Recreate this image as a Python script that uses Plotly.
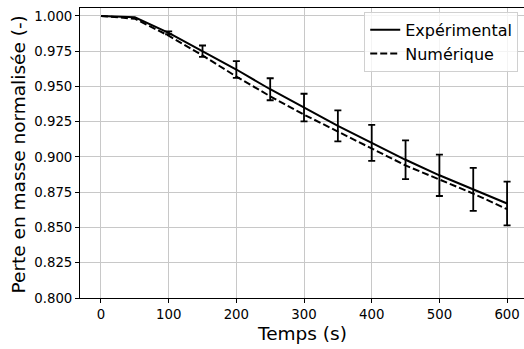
import plotly.graph_objects as go

temps = [0, 50, 100, 150, 200, 250, 300, 350, 400, 450, 500, 550, 600]
experimental = [1.000, 0.999, 0.988, 0.975, 0.962, 0.948, 0.935, 0.922, 0.910, 0.898, 0.887, 0.877, 0.867]
erreur = [0.0, 0.0005, 0.001, 0.004, 0.006, 0.0078, 0.0098, 0.011, 0.0128, 0.0137, 0.0147, 0.0153, 0.0155]
numerique = [1.000, 0.998, 0.986, 0.972, 0.957, 0.943, 0.930, 0.918, 0.906, 0.894, 0.884, 0.874, 0.863]

y_ticks = [0.800, 0.825, 0.850, 0.875, 0.900, 0.925, 0.950, 0.975, 1.000]
x_ticks = [0, 100, 200, 300, 400, 500, 600]

FONT = "DejaVu Sans"

fig = go.Figure()
fig.add_trace(go.Scatter(
    x=temps[2:], y=experimental[2:], mode="markers",
    marker=dict(size=0.1, color="black", opacity=0),
    error_y=dict(type="data", array=erreur[2:], visible=True, color="black", thickness=1.8, width=3.5),
    showlegend=False, hoverinfo="skip"))
fig.add_trace(go.Scatter(
    x=temps, y=experimental, mode="lines", name="Expérimental",
    line=dict(color="black", width=2)))
fig.add_trace(go.Scatter(
    x=temps, y=numerique, mode="lines", name="Numérique",
    line=dict(color="black", width=2, dash="7px,3px")))

fig.update_layout(
    width=524, height=349,
    margin=dict(l=80, r=0, t=8, b=51),
    paper_bgcolor="white", plot_bgcolor="white",
    font=dict(family=FONT, color="black", size=13.3),
    legend=dict(
        x=0.987, y=0.987, xanchor="right", yanchor="top",
        bgcolor="rgba(255,255,255,0.8)", bordercolor="#d0d0d0", borderwidth=1,
        font=dict(size=16, family=FONT), itemwidth=30, tracegroupgap=0),
    annotations=[
        dict(text="Temps (s)", xref="paper", yref="paper", x=0.5, y=-0.121,
             xanchor="center", yanchor="middle", showarrow=False,
             font=dict(size=18.5, family=FONT, color="black")),
        dict(text="Perte en masse normalisée (-)", xref="paper", yref="paper",
             x=-0.1396, y=0.495, xanchor="center", yanchor="middle", textangle=-90,
             showarrow=False, font=dict(size=18.5, family=FONT, color="black")),
    ],
)
fig.update_xaxes(
    range=[-31, 625], tickvals=x_ticks, ticktext=[str(v) for v in x_ticks],
    showgrid=True, gridcolor="#c8c8c8", gridwidth=1, automargin=False,
    showline=True, linecolor="black", linewidth=1, mirror=True,
    ticks="outside", ticklen=4, tickcolor="black", zeroline=False,
    tickfont=dict(size=13.3, family=FONT))
fig.update_yaxes(
    range=[0.8, 1.0056], tickvals=y_ticks, ticktext=[f"{v:.3f}" for v in y_ticks],
    showgrid=True, gridcolor="#c8c8c8", gridwidth=1, automargin=False,
    showline=True, linecolor="black", linewidth=1,
    ticks="outside", ticklen=4, tickcolor="black", zeroline=False,
    tickfont=dict(size=13.3, family=FONT))

fig.write_html(
    "out.html",
    config={"displayModeBar": False},
    post_script="document.body.style.margin='0';document.body.style.overflow='hidden';",
)
